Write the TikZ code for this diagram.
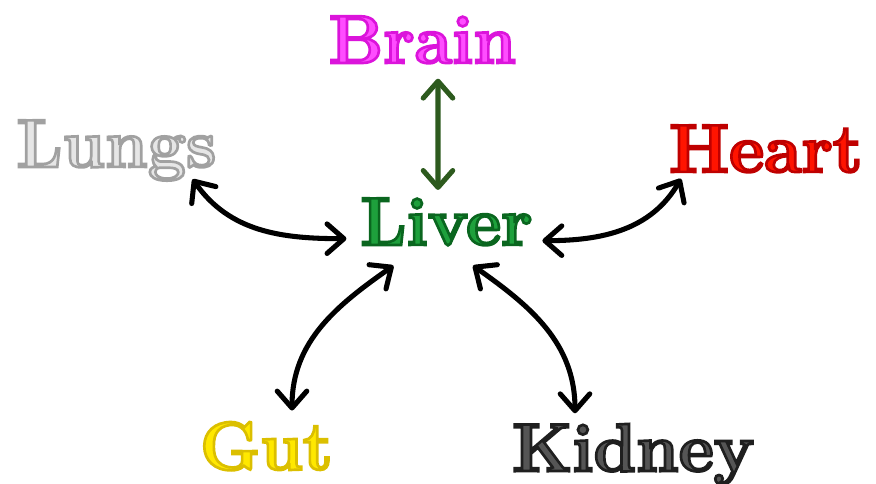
\documentclass[tikz,border=0pt]{standalone}
\usetikzlibrary{arrows.meta}
\definecolor{brainpink}{RGB}{255,77,255}
\definecolor{livergreen}{RGB}{30,160,60}
\definecolor{lungsgrey}{RGB}{230,230,230}
\definecolor{heartred}{RGB}{255,20,0}
\definecolor{gutyellow}{RGB}{255,232,0}
\definecolor{kidneygrey}{RGB}{85,85,85}
\definecolor{stemgreen}{RGB}{45,90,30}
% filled letters with a darker rim (text render mode 2)
\newcommand{\outlined}[2]{\special{pdf:literal direct 2 Tr 1.9 w #1 RG}#2\special{pdf:literal direct 0 Tr}}

\begin{document}
\begin{tikzpicture}[x=1cm,y=1cm,
  organ/.style={font=\fontsize{48.5}{52}\selectfont\bfseries, inner sep=0pt, anchor=base},
  link/.style={{Straight Barb[length=12pt,width=21pt,round]}-{Straight Barb[length=12pt,width=21pt,round]}, line width=3.6pt, line cap=round}]
\useasboundingbox (0,0) rectangle (21.9,12.1);
\node[organ, text=brainpink] (brain) at (10.56,10.525) {\outlined{0.86 0.08 0.86}{Brain}};
\node[organ, text=livergreen] (liver) at (11.16,5.975) {\outlined{0.04 0.40 0.12}{Liver}};
\node[organ, text=lungsgrey] (lungs) at (2.91,7.925) {\outlined{0.63 0.63 0.63}{Lungs}};
\node[organ, text=heartred] (heart) at (19.15,7.8) {\outlined{0.75 0 0}{Heart}};
\node[organ, text=gutyellow] (gut) at (6.66,0.36) {\outlined{0.86 0.75 0}{Gut}};
\node[organ, text=kidneygrey] (kidney) at (15.83,0.32) {\outlined{0.12 0.12 0.12}{Kidney}};

\draw[link, draw=stemgreen] ([shift={(0.39,-0.375)}]brain.south) -- ([shift={(-0.21,0.2)}]liver.north);
\draw[link] ([shift={(-0.6,0.045)}]lungs.south east) to[out=-55,in=180] ([shift={(-0.34,0.175)}]liver.south west);
\draw[link] ([shift={(0.24,0.125)}]liver.south east) to[out=0,in=-120] ([shift={(0.3,-0.15)}]heart.south west);
\draw[link] ([shift={(0.835,-0.5)}]liver.south west) to[out=-145,in=90] ([shift={(0.64,0.28)}]gut.north);
\draw[link] ([shift={(0.665,-0.5)}]liver.south) to[out=-35,in=90] ([shift={(-1.455,0.258)}]kidney.north);
\end{tikzpicture}
\end{document}
